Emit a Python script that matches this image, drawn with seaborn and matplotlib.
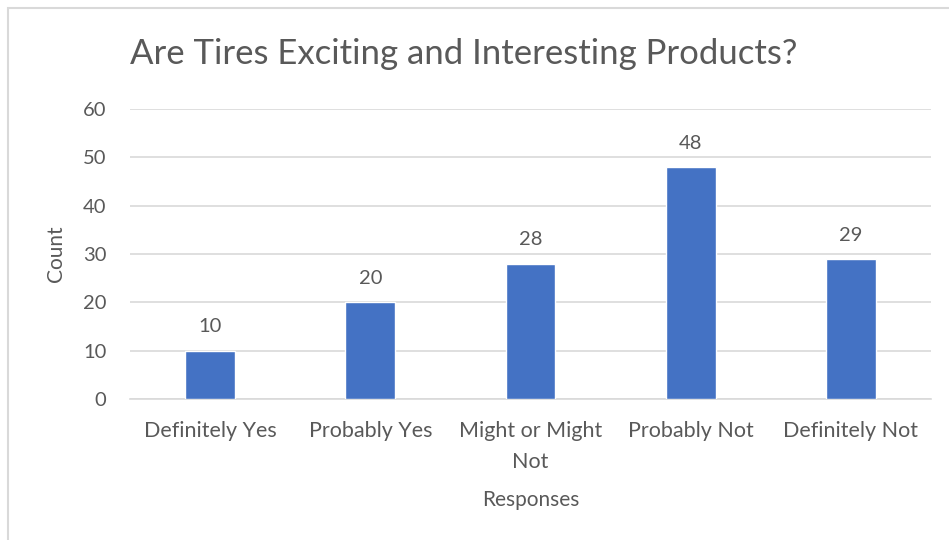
import matplotlib
matplotlib.use("Agg")
import matplotlib.pyplot as plt
import seaborn as sns
import pandas as pd
from matplotlib.patches import Rectangle

categories = ["Definitely Yes", "Probably Yes", "Might or Might\nNot", "Probably Not", "Definitely Not"]
counts = [10, 20, 28, 48, 29]
yticks = [0, 10, 20, 30, 40, 50, 60]

sns.set_theme(style="white")
plt.rcParams["font.family"] = ["Lato", "DejaVu Sans"]

df = pd.DataFrame({"Responses": categories, "Count": counts})

fig = plt.figure(figsize=(9.49, 5.40), dpi=100)
W, H = 949, 540
ax = fig.add_axes([130 / W, 1 - 399 / H, (931 - 130) / W, (399 - 109) / H])

grey = "#595959"
sns.barplot(data=df, x="Responses", y="Count", color="#4472C4", width=0.31,
            saturation=1, ax=ax, zorder=3)

ax.set_ylim(0, 60)
ax.set_yticks(yticks)
ax.set_xlim(-0.5, len(categories) - 0.5)
ax.grid(axis="y", color="#d9d9d9", linewidth=1.2, zorder=0)
ax.grid(axis="x", visible=False)
for s in ["top", "right", "left"]:
    ax.spines[s].set_visible(False)
ax.spines["bottom"].set_color("#d9d9d9")
ax.spines["bottom"].set_linewidth(1.2)
ax.tick_params(axis="both", length=0, colors=grey)
ax.tick_params(axis="x", labelsize=15.5, pad=16)
ax.tick_params(axis="y", labelsize=14.5, pad=17)

for lbl in ax.get_xticklabels():
    lbl.set_linespacing(1.7)

for c in ax.containers:
    ax.bar_label(c, padding=11, color=grey, fontsize=14.5)

ax.set_ylabel("Count", color=grey, fontsize=15, labelpad=12)
ax.set_xlabel("Responses", color=grey, fontsize=15, labelpad=13)

fig.text(130 / W, 1 - 54 / H, "Are Tires Exciting and Interesting Products?",
         color=grey, fontsize=25, ha="left", va="center")

fig.patches.append(Rectangle((8 / W, -0.1), 2, 1.1 - 8 / H, transform=fig.transFigure,
                             fill=False, edgecolor="#d9d9d9", linewidth=1.5))

fig.savefig("out.png", dpi=100)
